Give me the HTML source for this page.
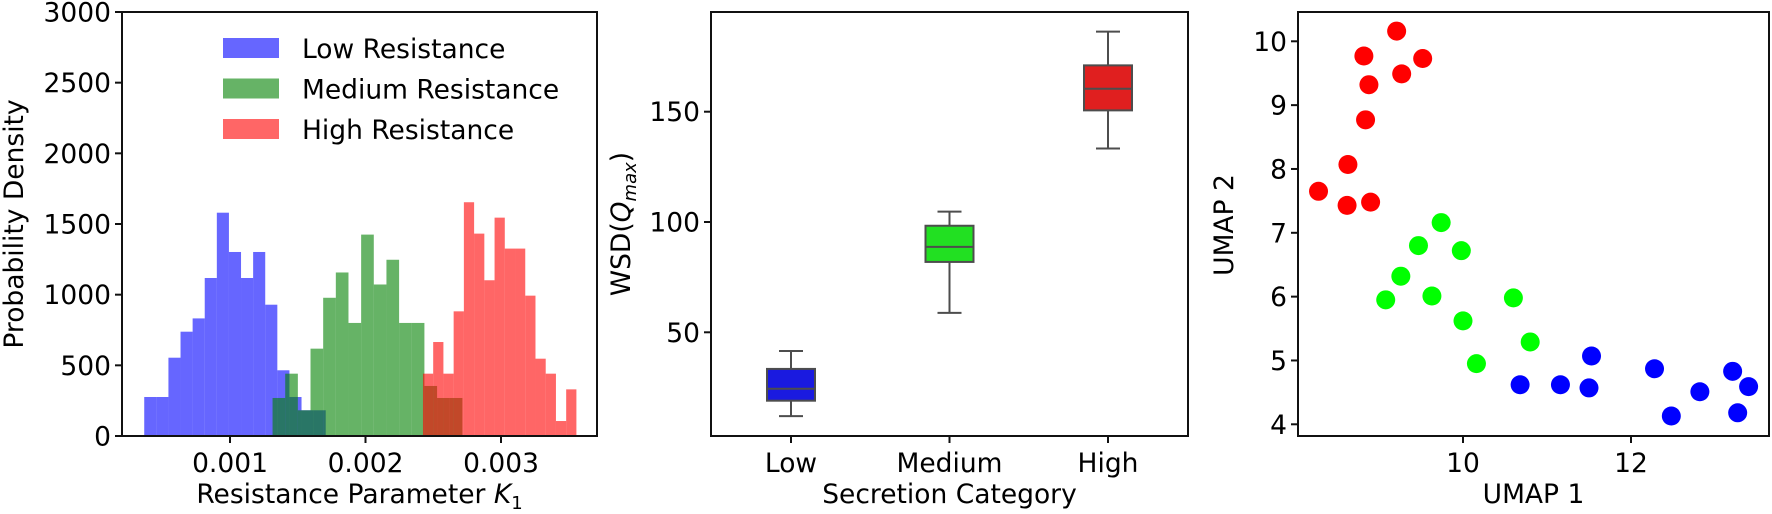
<!DOCTYPE html>
<html><head><meta charset="utf-8"><style>
html,body{margin:0;padding:0;background:#fff;}
svg{display:block;font-family:"DejaVu Sans","Liberation Sans",sans-serif;}
</style></head><body>
<svg id="fig" width="1772" height="514" viewBox="0 0 1772 514" xmlns="http://www.w3.org/2000/svg"></svg>
<script>
// ---- Panel 1: histograms ----
const histNames = ["Low Resistance","Medium Resistance","High Resistance"];
const histStarts = [0.000367, 0.001314, 0.002424];
const histWidths = [0.0000893, 0.0000934, 0.0000755];
const lowHeights = [276,276,554,738,832,1118,1580,1302,1118,1302,929,465,276,182,182];
const medHeights = [269,441,182,618,978,1157,800,1425,1072,1247,800,800,354,269,269];
const highHeights = [441,665,441,882,1654,1432,1102,1545,1326,1326,993,547,441,106,330];
const histXTicks = [0.001,0.002,0.003];
const histXTickLabels = ["0.001","0.002","0.003"];
const histYTicks = [0,500,1000,1500,2000,2500,3000];
// ---- Panel 2: boxplot ----
const boxCats = ["Low","Medium","High"];
const boxWhiskLo = [12, 58.8, 133.3];
const boxQ1 = [19, 81.9, 150.6];
const boxMed = [24.4, 88.7, 160.4];
const boxQ3 = [33.4, 98.3, 171];
const boxWhiskHi = [41.5, 104.7, 186.3];
const boxYTicks = [50,100,150];
// ---- Panel 3: scatter ----
const redX = [8.28,8.63,8.62,8.90,8.84,8.88,8.82,9.21,9.27,9.52];
const redY = [7.65,8.07,7.43,7.48,8.77,9.32,9.77,10.16,9.49,9.73];
const greenX = [9.74,9.47,9.98,9.26,9.08,9.63,10.60,10.00,10.80,10.16];
const greenY = [7.16,6.80,6.72,6.32,5.95,6.01,5.98,5.62,5.29,4.95];
const blueX = [10.68,11.16,11.50,11.53,12.28,12.48,12.82,13.21,13.40,13.27];
const blueY = [4.62,4.62,4.57,5.07,4.87,4.13,4.51,4.83,4.59,4.18];
const scXTicks = [10,12];
const scYTicks = [4,5,6,7,8,9,10];

const NS="http://www.w3.org/2000/svg";
const svg=document.getElementById('fig');
function mk(tag,attrs,parent){const e=document.createElementNS(NS,tag);for(const k in attrs)e.setAttribute(k,attrs[k]);(parent||svg).appendChild(e);return e;}
function txt(s,attrs,parent){const e=mk('text',attrs,parent);e.textContent=s;return e;}
const TOP=12,BOT=436,FS=26.5;
function lin(d0,d1,r0,r1){return v=>r0+(v-d0)/(d1-d0)*(r1-r0);}

// ===== Panel 1 =====
const g1=mk('g',{});


const L1=122,R1=597;
const hx=lin(0.001,0.003,230,501), hy=lin(0,3000,BOT,TOP);
const hColors=["rgba(0,0,255,0.6)","rgba(0,128,0,0.6)","rgba(255,0,0,0.6)"];
const hAll=[lowHeights,medHeights,highHeights];
hAll.forEach((hs,si)=>{
  hs.forEach((h,i)=>{
    const x0=hx(histStarts[si]+i*histWidths[si]), x1=hx(histStarts[si]+(i+1)*histWidths[si]);
    const r=mk('rect',{x:x0,y:hy(h),width:x1-x0,height:BOT-hy(h),fill:hColors[si]},g1);
    
    
  });
});
mk('rect',{x:L1,y:TOP,width:R1-L1,height:BOT-TOP,fill:'none',stroke:'#111','stroke-width':2},g1);
histXTicks.forEach((t,i)=>{const x=hx(t);mk('line',{x1:x,x2:x,y1:BOT,y2:BOT+7,stroke:'#111','stroke-width':2},g1);
  const e=txt(histXTickLabels[i],{x:x,y:BOT+36,'font-size':FS,'text-anchor':'middle'},g1);
  });
histYTicks.forEach(t=>{const y=hy(t);mk('line',{x1:L1-7,x2:L1,y1:y,y2:y,stroke:'#111','stroke-width':2},g1);
  const e=txt(String(t),{x:L1-11,y:y+9.5,'font-size':FS,'text-anchor':'end'},g1);
  });
let e1=txt('',{x:(L1+R1)/2,y:503,'font-size':FS,'text-anchor':'middle'},g1);
e1.innerHTML='Resistance Parameter <tspan font-style="italic">K</tspan><tspan font-size="18" dy="6">1</tspan>';

let e2=txt('Probability Density',{x:0,y:0,'font-size':FS,'text-anchor':'middle',transform:'translate(23,224) rotate(-90)'},g1);

histNames.forEach((n,i)=>{
  const lg=mk('g',{},g1);
  
  
  const y=38+i*40.5;
  mk('rect',{x:223,y:y,width:56,height:20,fill:hColors[i]},lg);
  txt(n,{x:302,y:y+20,'font-size':FS},lg);
});

// ===== Panel 2 =====
const g2=mk('g',{});


const L2=711,R2=1188;
const by=lin(50,150,332.3,111.7);
const bx=i=>791+i*158.5;
const bColors=["#1a1ae0","#22e022","#e01f1f"];
boxCats.forEach((c,i)=>{
  const bg=mk('g',{},g2);
  
  
  const x=bx(i),w=48;
  mk('line',{x1:x,x2:x,y1:by(boxWhiskLo[i]),y2:by(boxQ1[i]),stroke:'#4d4d4d','stroke-width':2},bg);
  mk('line',{x1:x,x2:x,y1:by(boxQ3[i]),y2:by(boxWhiskHi[i]),stroke:'#4d4d4d','stroke-width':2},bg);
  mk('line',{x1:x-12,x2:x+12,y1:by(boxWhiskLo[i]),y2:by(boxWhiskLo[i]),stroke:'#4d4d4d','stroke-width':2},bg);
  mk('line',{x1:x-12,x2:x+12,y1:by(boxWhiskHi[i]),y2:by(boxWhiskHi[i]),stroke:'#4d4d4d','stroke-width':2},bg);
  mk('rect',{x:x-w/2,y:by(boxQ3[i]),width:w,height:by(boxQ1[i])-by(boxQ3[i]),fill:bColors[i],stroke:'#4d4d4d','stroke-width':2},bg);
  mk('line',{x1:x-w/2,x2:x+w/2,y1:by(boxMed[i]),y2:by(boxMed[i]),stroke:'#4d4d4d','stroke-width':2},bg);
  mk('line',{x1:x,x2:x,y1:BOT,y2:BOT+7,stroke:'#111','stroke-width':2},g2);
  const t=txt(c,{x:x,y:BOT+36,'font-size':FS,'text-anchor':'middle'},g2);
  
});
mk('rect',{x:L2,y:TOP,width:R2-L2,height:BOT-TOP,fill:'none',stroke:'#111','stroke-width':2},g2);
boxYTicks.forEach(t=>{const y=by(t);mk('line',{x1:L2-7,x2:L2,y1:y,y2:y,stroke:'#111','stroke-width':2},g2);
  const e=txt(String(t),{x:L2-11,y:y+9.5,'font-size':FS,'text-anchor':'end'},g2);
  });
let e3=txt('Secretion Category',{x:(L2+R2)/2,y:503,'font-size':FS,'text-anchor':'middle'},g2);

let e4=txt('',{x:0,y:0,'font-size':FS,'text-anchor':'middle',transform:'translate(630,224) rotate(-90)'},g2);
e4.innerHTML='WSD(<tspan font-style="italic">Q</tspan><tspan font-style="italic" font-size="18" dy="6">max</tspan><tspan dy="-6">)</tspan>';


// ===== Panel 3 =====
const g3=mk('g',{});


const L3=1298,R3=1769;
const sx=lin(10,12,1463,1631), sy=lin(4,10,424.3,41.3);
[[redX,redY,'#ff0000','red'],[greenX,greenY,'#00ff00','green'],[blueX,blueY,'#0000ff','blue']].forEach(([xs,ys,col,nm])=>{
  xs.forEach((v,i)=>{
    const c=mk('circle',{cx:sx(v),cy:sy(ys[i]),r:9.5,fill:col},g3);
    
    
  });
});
mk('rect',{x:L3,y:TOP,width:R3-L3,height:BOT-TOP,fill:'none',stroke:'#111','stroke-width':2},g3);
scXTicks.forEach(t=>{const x=sx(t);mk('line',{x1:x,x2:x,y1:BOT,y2:BOT+7,stroke:'#111','stroke-width':2},g3);
  const e=txt(String(t),{x:x,y:BOT+36,'font-size':FS,'text-anchor':'middle'},g3);
  });
scYTicks.forEach(t=>{const y=sy(t);mk('line',{x1:L3-7,x2:L3,y1:y,y2:y,stroke:'#111','stroke-width':2},g3);
  const e=txt(String(t),{x:L3-11,y:y+9.5,'font-size':FS,'text-anchor':'end'},g3);
  });
let e5=txt('UMAP 1',{x:(L3+R3)/2,y:503,'font-size':FS,'text-anchor':'middle'},g3);

let e6=txt('UMAP 2',{x:0,y:0,'font-size':FS,'text-anchor':'middle',transform:'translate(1233,225) rotate(-90)'},g3);

</script>
</body></html>
